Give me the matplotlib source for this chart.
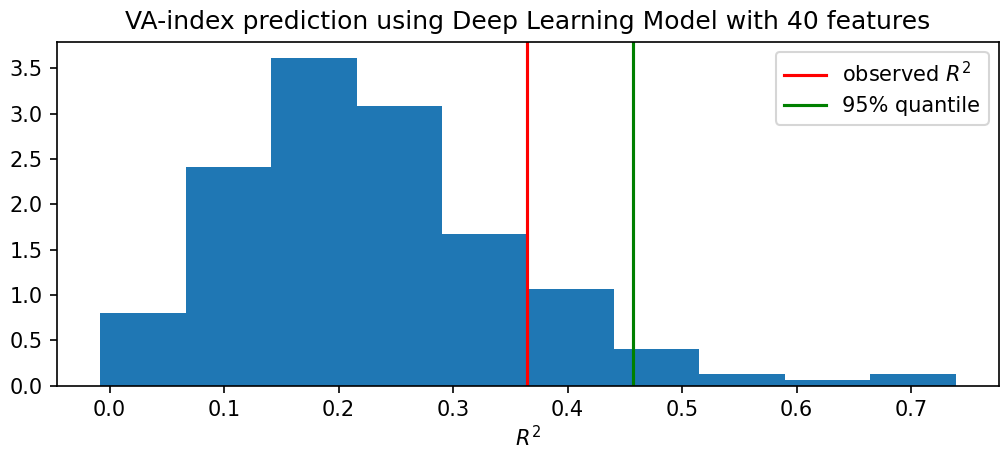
import matplotlib
matplotlib.use('Agg')
import matplotlib.pyplot as plt

# Histogram of permuted R^2 values (density)
bin_edges = [-0.0085, 0.0663, 0.1411, 0.2158, 0.2906, 0.3654,
             0.4402, 0.5150, 0.5897, 0.6645, 0.7393]
densities = [0.80, 2.41, 3.61, 3.08, 1.67, 1.07, 0.40, 0.13, 0.067, 0.13]

observed_r2 = 0.3644
quantile_95 = 0.4570

fig, ax = plt.subplots(figsize=(6.673, 3.007), dpi=150)

# Draw the bars through hist, using the bin left edges as sample positions
ax.hist(bin_edges[:-1], bins=bin_edges, weights=densities)

ax.axvline(observed_r2, color='red', label=r'observed $R^2$')
ax.axvline(quantile_95, color='green', label='95% quantile')

ax.set_title('VA-index prediction using Deep Learning Model with 40 features')
ax.set_xlabel(r'$R^2$', labelpad=2.5)
ax.legend(loc='upper right')

fig.subplots_adjust(left=0.057, right=0.998, top=0.907, bottom=0.145)
fig.savefig('out.png', dpi=150)
